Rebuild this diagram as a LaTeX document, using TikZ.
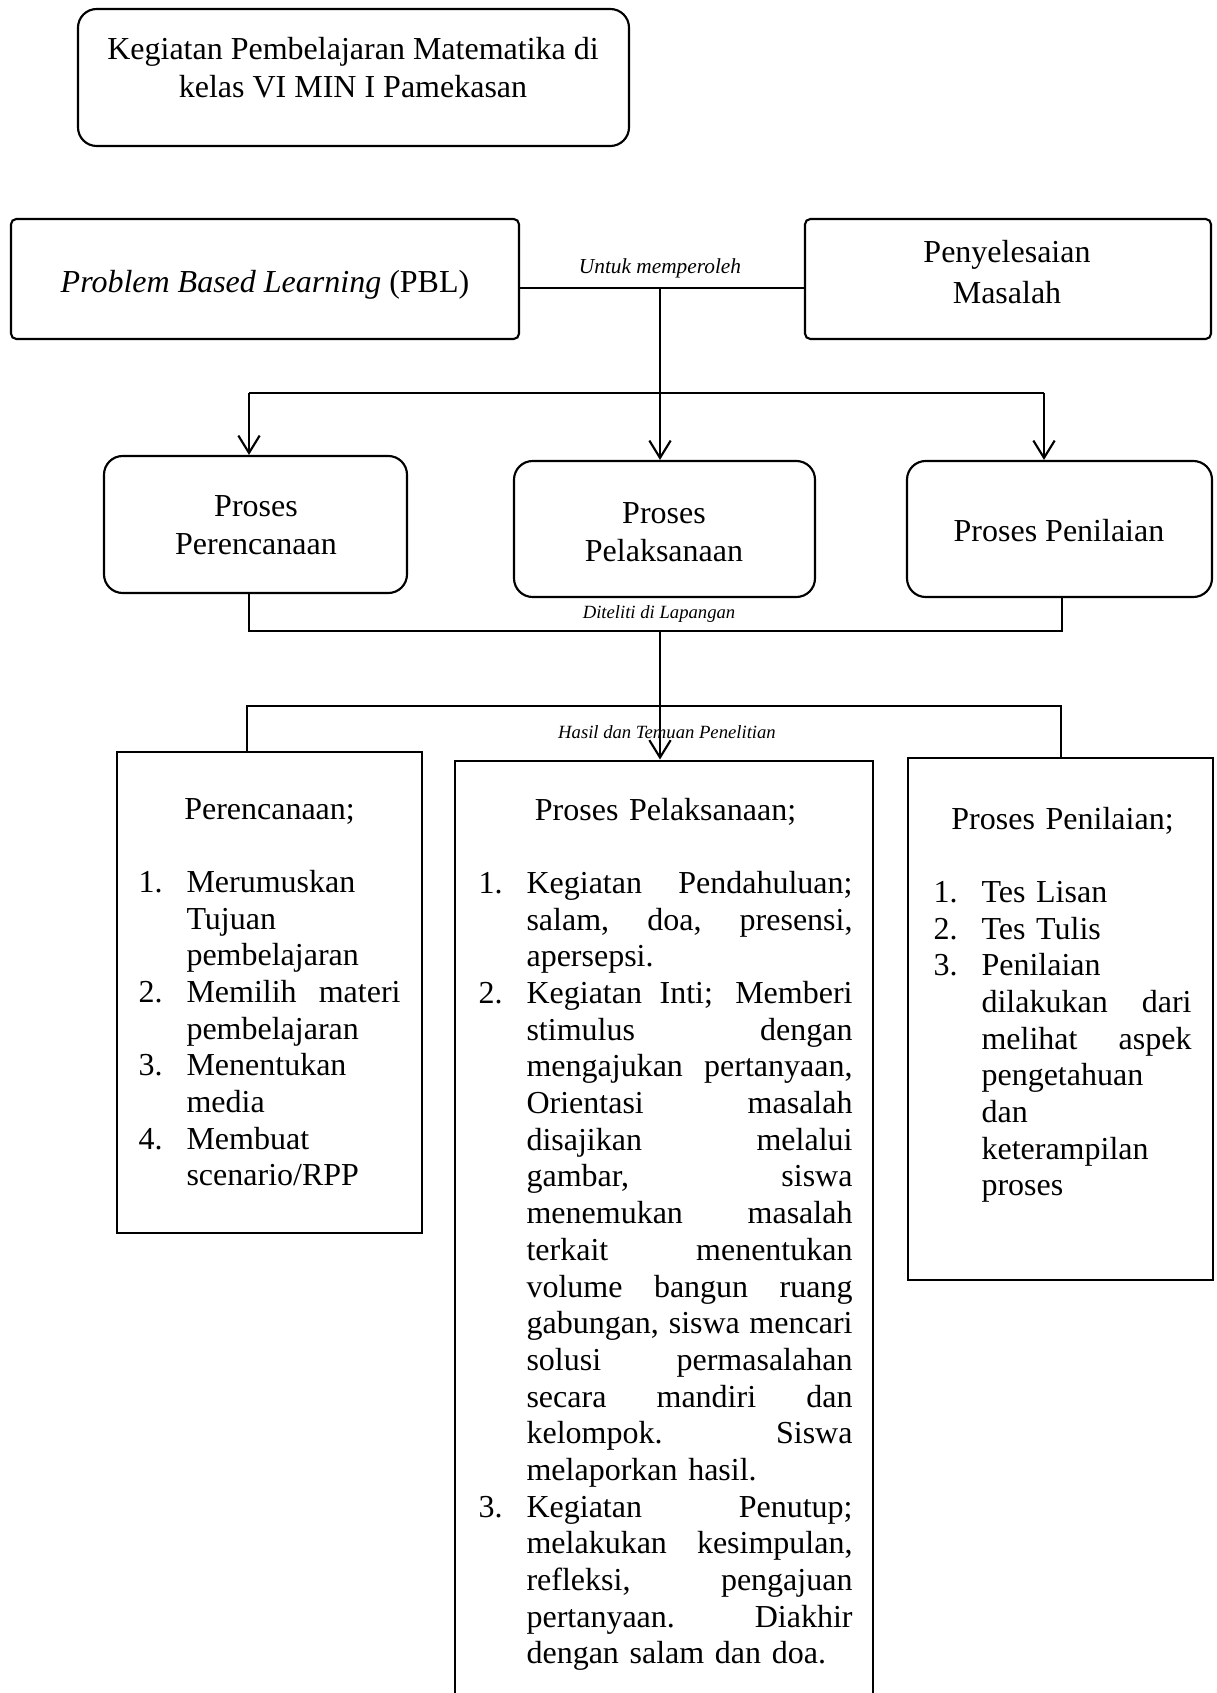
\documentclass[tikz,border=0pt]{standalone}
\usepackage{fontspec}
\setmainfont{Liberation Serif}
\usetikzlibrary{arrows.meta,fit}

% hanging indent of the numbered lists
\newlength\itemind
\setlength\itemind{18pt}
% a line stretched to the given width (interword glue made stretchable again)
\newcommand\spread[2]{\makebox[#1][s]{\spaceskip=0pt\xspaceskip=0pt #2}}
% numbered line, justified / ragged
\newcommand\numj[2]{\makebox[\itemind][l]{#1}\spread{\dimexpr\linewidth-\itemind\relax}{#2}}
\newcommand\numr[2]{\makebox[\itemind][l]{#1}#2}
% continuation line, justified / ragged
\newcommand\contj[1]{\hspace*{\itemind}\spread{\dimexpr\linewidth-\itemind\relax}{#1}}
\newcommand\contr[1]{\hspace*{\itemind}#1}
% centred heading of a list box
\newcommand\heading[1]{\makebox[\linewidth]{#1}}

\begin{document}
\begin{tikzpicture}[x=0.375pt,y=-0.375pt,
  font=\fontsize{12pt}{14.25pt}\selectfont,
  roundbox/.style={draw, line width=0.8pt, rounded corners=7pt, inner sep=0pt},
  softbox/.style={draw, line width=0.8pt, rounded corners=2pt, inner sep=0pt},
  listbox/.style={draw, line width=1.1pt, inner sep=0pt},
  txt/.style={inner sep=0pt, anchor=base},
  lines/.style={inner sep=0pt, anchor=base, align=center},
  listtext/.style={inner sep=0pt, anchor=base west, align=left, text width=#1,
    font=\fontsize{12pt}{13.76pt}\selectfont},
  tag/.style={inner sep=0pt, font=\fontsize{7pt}{8pt}\selectfont\itshape},
  link/.style={line width=0.8pt},
  arr/.style={link, -{Straight Barb[length=6.5pt,width=8pt,line width=0.8pt]}}
]
\useasboundingbox (0,0) rectangle (1216,1693);
\fill[white] (0,0) rectangle (1216,1693);
\clip (0,0) rectangle (1216,1693);

% title box (text placed by the baseline of its last line)
\node[roundbox, fit={(78,9) (629,146)}] (title) {};
\node[lines] (titletxt) at (353,98) {Kegiatan Pembelajaran Matematika di\\kelas VI MIN I Pamekasan};

% model and goal
\node[softbox, fit={(11,219) (519,339)}] (pbl) {};
\node[txt] (pbltxt) at (265,293) {\textit{Problem Based Learning} (PBL)};
\node[softbox, fit={(805,219) (1211,339)}] (pen) {};
\node[lines, font=\fontsize{12pt}{15.4pt}\selectfont] (pentxt) at (1007,304) {Penyelesaian\\Masalah};

% the three processes
\node[roundbox, fit={(104,456) (407,593)}] (per) {};
\node[lines] (pertxt) at (256,554) {Proses\\Perencanaan};
\node[roundbox, fit={(514,461) (815,597)}] (pel) {};
\node[lines] (peltxt) at (664,561) {Proses\\Pelaksanaan};
\node[roundbox, fit={(907,461) (1212,597)}] (pnl) {};
\node[txt] (pnltxt) at (1059,541) {Proses Penilaian};

% findings
\node[listbox, fit={(117,752) (422,1233)}] (lper) {};
\node[listtext=98.25pt] (lpertxt) at (138,819) {%
\heading{Perencanaan;}\\[13.76pt]
\numr{1.}{Merumuskan}\\
\contr{Tujuan}\\
\contr{pembelajaran}\\
\numj{2.}{Memilih materi}\\
\contr{pembelajaran}\\
\numr{3.}{Menentukan}\\
\contr{media}\\
\numr{4.}{Membuat}\\
\contr{scenario/RPP}};

\node[listbox, fit={(455,761) (873,1730)}] (lpel) {};
\node[listtext=140.25pt] (lpeltxt) at (478,820) {%
\heading{Proses Pelaksanaan;}\\[13.76pt]
\numj{1.}{Kegiatan Pendahuluan;}\\
\contj{salam, doa, presensi,}\\
\contr{apersepsi.}\\
\numj{2.}{Kegiatan Inti; Memberi}\\
\contj{stimulus dengan}\\
\contj{mengajukan pertanyaan,}\\
\contj{Orientasi masalah}\\
\contj{disajikan melalui}\\
\contj{gambar, siswa}\\
\contj{menemukan masalah}\\
\contj{terkait menentukan}\\
\contj{volume bangun ruang}\\
\contj{gabungan, siswa mencari}\\
\contj{solusi permasalahan}\\
\contj{secara mandiri dan}\\
\contj{kelompok. Siswa}\\
\contr{melaporkan hasil.}\\
\numj{3.}{Kegiatan Penutup;}\\
\contj{melakukan kesimpulan,}\\
\contj{refleksi, pengajuan}\\
\contj{pertanyaan. Diakhir}\\
\contr{dengan salam dan doa.}};

\node[listbox, fit={(908,758) (1213,1280)}] (lpnl) {};
\node[listtext=96.75pt] (lpnltxt) at (933,829) {%
\heading{Proses Penilaian;}\\[13.76pt]
\numr{1.}{Tes Lisan}\\
\numr{2.}{Tes Tulis}\\
\numr{3.}{Penilaian}\\
\contj{dilakukan dari}\\
\contj{melihat aspek}\\
\contr{pengetahuan}\\
\contr{dan}\\
\contr{keterampilan}\\
\contr{proses}};

% connector labels
\node[tag, font=\fontsize{8pt}{9pt}\selectfont\itshape] (tag1) at (660,268) {Untuk memperoleh};
\node[tag] (tag2) at (659,614) {Diteliti di Lapangan};
\node[tag] (tag3) at (667,732) {Hasil dan Temuan Penelitian};

% PBL -> goal, then down to the processes
\coordinate (j1) at (660,288);
\draw[link] (pbl.east |- j1) -- (pen.west |- j1);
\draw[arr] (j1) -- (j1 |- pel.north);
\coordinate (sL) at (249,393);
\coordinate (sR) at (1044,393);
\draw[link] (sL) -- (sR);
\draw[arr] (sL) -- (sL |- per.north);
\draw[arr] (sR) -- (sR |- pnl.north);

% processes gathered and researched in the field
\coordinate (dL) at (249,631);
\coordinate (dM) at (660,631);
\coordinate (dR) at (1062,631);
\draw[link] (dL |- per.south) -- (dL) -- (dR) -- (dR |- pnl.south);
\draw[arr] (dM) -- (dM |- lpel.north);

% findings bracket
\coordinate (hL) at (247,706);
\coordinate (hR) at (1061,706);
\draw[link] (hL |- lper.north) -- (hL) -- (hR) -- (hR |- lpnl.north);
\end{tikzpicture}
\end{document}
